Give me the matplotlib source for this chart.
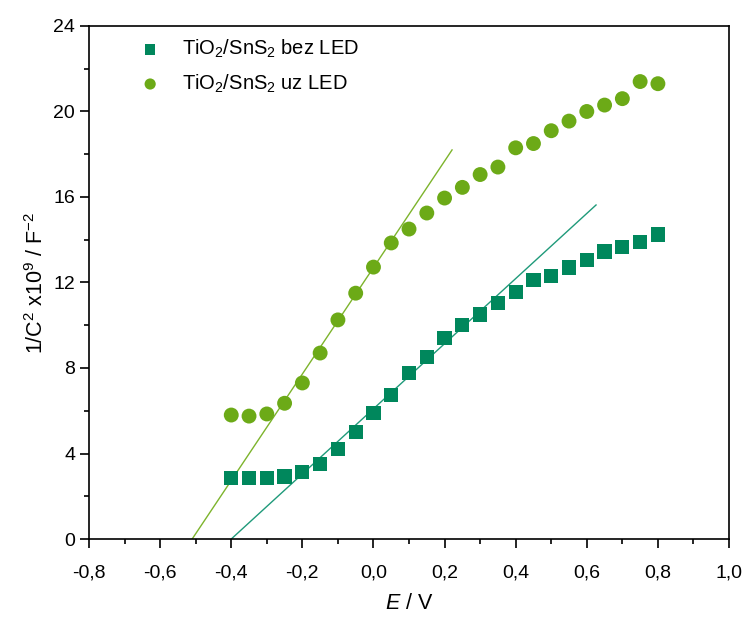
import matplotlib
matplotlib.use("Agg")
import matplotlib.pyplot as plt
import numpy as np
from matplotlib.ticker import MultipleLocator, FuncFormatter

plt.rcParams['font.family'] = ['Liberation Sans', 'DejaVu Sans']
plt.rcParams['mathtext.fontset'] = 'custom'
plt.rcParams['mathtext.rm'] = 'Liberation Sans'
plt.rcParams['mathtext.it'] = 'Liberation Sans:italic'
plt.rcParams['mathtext.bf'] = 'Liberation Sans:bold'

E = [-0.4, -0.35, -0.3, -0.25, -0.2, -0.15, -0.1, -0.05, 0.0, 0.05, 0.1, 0.15, 0.2,
     0.25, 0.3, 0.35, 0.4, 0.45, 0.5, 0.55, 0.6, 0.65, 0.7, 0.75, 0.8]
bez_led = [2.85, 2.85, 2.87, 2.92, 3.15, 3.5, 4.2, 5.0, 5.88, 6.75, 7.75, 8.5, 9.4,
           10.0, 10.5, 11.05, 11.55, 12.1, 12.3, 12.7, 13.05, 13.45, 13.65, 13.9, 14.25]
uz_led = [5.8, 5.75, 5.85, 6.35, 7.3, 8.7, 10.25, 11.5, 12.72, 13.85, 14.5, 15.25, 15.95,
          16.45, 17.05, 17.4, 18.3, 18.5, 19.1, 19.55, 20.0, 20.3, 20.6, 21.4, 21.3]

# linear fits (x-intercept, slope, x range)
fit_bez = {'x0': -0.40, 'slope': 15.23, 'x_end': 0.626}
fit_uz = {'x0': -0.51, 'slope': 24.9, 'x_end': 0.221}

c_sq = '#00875c'
c_ci = '#6caa17'
c_line_sq = '#1f9a7a'
c_line_ci = '#7db42c'

fig = plt.figure(figsize=(7.42, 6.17), dpi=100)
ax = fig.add_axes([0.12, 0.1264, 0.8625, 0.8315])

for fit, col in ((fit_bez, c_line_sq), (fit_uz, c_line_ci)):
    xs = np.array([fit['x0'], fit['x_end']])
    ax.plot(xs, fit['slope'] * (xs - fit['x0']), color=col, lw=1.0, zorder=2)

ax.scatter(E, bez_led, marker='s', s=105, color=c_sq, edgecolors='none', zorder=3,
           label='TiO$_2$/SnS$_2$ bez LED')
ax.scatter(E, uz_led, marker='o', s=115, color=c_ci, edgecolors='none', zorder=3,
           label='TiO$_2$/SnS$_2$ uz LED')

ax.set_xlim(-0.8, 1.0)
ax.set_ylim(0, 24)
ax.xaxis.set_major_locator(MultipleLocator(0.2))
ax.xaxis.set_minor_locator(MultipleLocator(0.1))
ax.yaxis.set_major_locator(MultipleLocator(4))
ax.yaxis.set_minor_locator(MultipleLocator(2))
ax.xaxis.set_major_formatter(FuncFormatter(lambda v, p: f"{v:.1f}".replace('.', ',').replace('-0,0', '0,0')))
ax.tick_params(which='both', direction='out', width=1.2, labelsize=14, top=False, right=False)
ax.tick_params(which='major', length=6.5)
ax.tick_params(which='minor', length=3.5)
ax.tick_params(axis='x', which='major', pad=12)
for s in ax.spines.values():
    s.set_linewidth(1.2)

ax.set_xlabel('$E$ / V', fontsize=15.5, labelpad=8)
ax.set_ylabel('1/C$^2$ x10$^9$ / F$^{-2}$', fontsize=15.5, labelpad=4)

leg = ax.legend(loc='upper left', frameon=False, fontsize=14.5, handletextpad=0.6,
                borderaxespad=0.3, bbox_to_anchor=(0.042, 1.005), labelspacing=0.62,
                markerscale=0.75)

fig.savefig('out.png', dpi=100)
